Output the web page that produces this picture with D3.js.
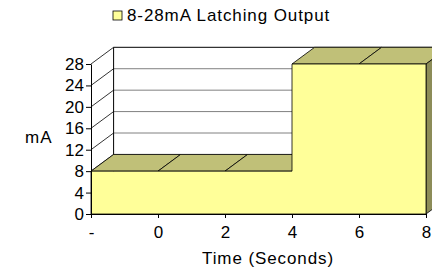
<!DOCTYPE html>
<html>
<head>
<meta charset="utf-8">
<script src="https://cdn.jsdelivr.net/npm/d3@7"></script>
<style>
  body { margin: 0; background: #fff; }
  svg { display: block; }
</style>
</head>
<body>
<script>
// series: time (s) vs current (mA), step at t = 4
const times = [-2, 0, 2, 4, 4, 6, 8];
const current = [8, 8, 8, 8, 28, 28, 28];

// axis ticks
const xTicks = [-2, 0, 2, 4, 6, 8];
const xTickLabels = ['-', '0', '2', '4', '6', '8'];
const yTicks = [0, 4, 8, 12, 16, 20, 24, 28];

const seriesName = '8-28mA Latching Output';

const width = 432;
const height = 273;

const svg = d3.select('body')
  .append('svg')
  .attr('width', width)
  .attr('height', height)
  .style('font-family', '"Liberation Sans", Arial, sans-serif')
  .style('font-size', '17px');

// front plane scales
const x = d3.scaleLinear().domain([-2, 8]).range([91, 426]);
const y = d3.scaleLinear().domain([0, 28]).range([214, 64]);

// 3d depth offset
const dx = 22.6;
const dy = -16.7;

const frontFill = '#ffff99';
const topFill = '#c0c078';
const sideFill = '#8c8c58';

// back wall
svg.append('rect')
  .attr('x', x(-2) + dx)
  .attr('y', y(28) + dy)
  .attr('width', x(8) - x(-2))
  .attr('height', y(0) - y(28))
  .attr('fill', '#fff');

// gridlines on the back wall
svg.selectAll('.grid')
  .data(yTicks.filter((d) => d > 0 && d < 28))
  .join('line')
  .attr('class', 'grid')
  .attr('x1', x(-2) + dx)
  .attr('x2', x(8) + dx)
  .attr('y1', (d) => y(d) + dy)
  .attr('y2', (d) => y(d) + dy)
  .attr('stroke', '#808080')
  .attr('stroke-width', 1);

// back wall border (top + left)
svg.append('path')
  .attr('d', `M${x(-2) + dx},${y(0) + dy}V${y(28) + dy}H${x(8) + dx}`)
  .attr('fill', 'none')
  .attr('stroke', '#000');

// left wall diagonals at each y tick
svg.selectAll('.wall-tick')
  .data(yTicks)
  .join('line')
  .attr('class', 'wall-tick')
  .attr('x1', x(-2))
  .attr('y1', (d) => y(d))
  .attr('x2', x(-2) + dx)
  .attr('y2', (d) => y(d) + dy)
  .attr('stroke', '#000')
  .attr('stroke-width', 0.8);

// top faces, one per horizontal segment
const pts = times.map((t, i) => ({ t: t, v: current[i] }));
const segs = [];
for (let i = 0; i < pts.length - 1; i++) {
  if (pts[i].t !== pts[i + 1].t) segs.push([pts[i], pts[i + 1]]);
}

svg.selectAll('.top-face')
  .data(segs)
  .join('path')
  .attr('class', 'top-face')
  .attr('d', (s) => {
    const x0 = x(s[0].t), x1 = x(s[1].t);
    const y0 = y(s[0].v), y1 = y(s[1].v);
    return `M${x0},${y0}L${x1},${y1}L${x1 + dx},${y1 + dy}L${x0 + dx},${y0 + dy}Z`;
  })
  .attr('fill', topFill)
  .attr('stroke', '#000')
  .attr('stroke-width', 0.8);

// right side face
const last = pts[pts.length - 1];
svg.append('path')
  .attr('d', `M${x(last.t)},${y(last.v)}L${x(last.t) + dx},${y(last.v) + dy}` +
    `L${x(last.t) + dx},${y(0) + dy}L${x(last.t)},${y(0)}Z`)
  .attr('fill', sideFill)
  .attr('stroke', '#000')
  .attr('stroke-width', 0.8);

// front face
const area = d3.area()
  .x((d) => x(d.t))
  .y0(y(0))
  .y1((d) => y(d.v));

svg.append('path')
  .datum(pts)
  .attr('d', area)
  .attr('fill', frontFill)
  .attr('stroke', '#000')
  .attr('stroke-width', 0.8);

// y axis
const yAxis = svg.append('g')
  .attr('transform', `translate(${x(-2)},0)`)
  .call(d3.axisLeft(y).tickValues(yTicks).tickSize(5).tickSizeOuter(0).tickPadding(2));
yAxis.selectAll('text').attr('fill', '#000').style('font-size', '17px').attr('font-family', null);
yAxis.selectAll('line, path').attr('stroke', '#000');

// x axis
const xAxis = svg.append('g')
  .attr('transform', `translate(0,${y(0)})`)
  .call(d3.axisBottom(x).tickValues(xTicks)
    .tickFormat((d, i) => xTickLabels[i]).tickSize(4).tickSizeOuter(0).tickPadding(8));
xAxis.selectAll('text').attr('fill', '#000').style('font-size', '17px').attr('font-family', null);
xAxis.selectAll('line, path').attr('stroke', '#000');

// axis titles
svg.append('text')
  .attr('x', 25)
  .attr('y', 143)
  .style('letter-spacing', '1px')
  .text('mA');

svg.append('text')
  .attr('x', 268)
  .attr('y', 264)
  .attr('text-anchor', 'middle')
  .style('letter-spacing', '0.9px')
  .text('Time (Seconds)');

// legend
svg.append('rect')
  .attr('x', 113)
  .attr('y', 11)
  .attr('width', 9)
  .attr('height', 9)
  .attr('fill', frontFill)
  .attr('stroke', '#000')
  .attr('stroke-width', 0.8);

svg.append('text')
  .attr('x', 127)
  .attr('y', 21)
  .style('letter-spacing', '0.9px')
  .text(seriesName);
</script>
</body>
</html>
